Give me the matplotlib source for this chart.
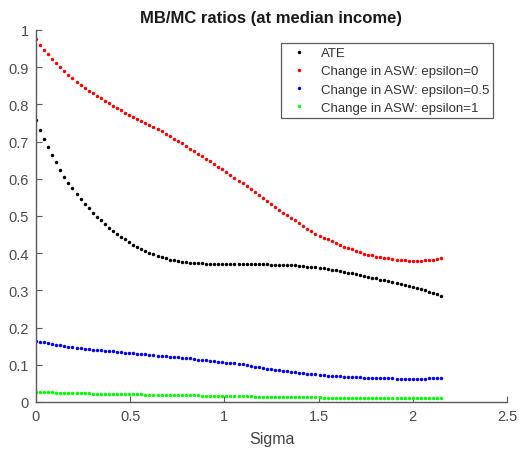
import numpy as np
import matplotlib
matplotlib.use("Agg")
import matplotlib.pyplot as plt

plt.rcParams['font.family'] = ['Liberation Sans', 'DejaVu Sans']

# Sigma grid (101 evenly spaced points from 0 to 2.15)
sigma = np.linspace(0, 2.15, 101)

ate = [0.758,0.731,0.708,0.685,0.663,0.644,0.624,0.606,0.590,0.574,
       0.559,0.546,0.533,0.521,0.509,0.498,0.488,0.479,0.469,0.461,
       0.452,0.444,0.437,0.429,0.422,0.416,0.410,0.405,0.401,0.397,
       0.393,0.389,0.386,0.383,0.381,0.379,0.377,0.376,0.375,0.374,
       0.373,0.373,0.372,0.372,0.372,0.372,0.371,0.371,0.371,0.371,
       0.371,0.371,0.371,0.371,0.370,0.370,0.370,0.370,0.369,0.369,
       0.369,0.368,0.368,0.367,0.367,0.366,0.365,0.364,0.363,0.362,
       0.361,0.359,0.357,0.356,0.354,0.352,0.350,0.348,0.346,0.344,
       0.342,0.340,0.337,0.334,0.332,0.329,0.327,0.324,0.322,0.319,
       0.317,0.314,0.312,0.309,0.306,0.303,0.300,0.297,0.293,0.289,
       0.284]

asw_eps0 = [0.977,0.961,0.947,0.935,0.922,0.910,0.900,0.890,0.880,0.870,
            0.861,0.852,0.844,0.837,0.830,0.823,0.816,0.809,0.803,0.797,
            0.790,0.784,0.778,0.772,0.766,0.760,0.755,0.749,0.744,0.738,
            0.733,0.728,0.721,0.714,0.707,0.701,0.695,0.688,0.681,0.675,
            0.668,0.661,0.654,0.647,0.640,0.633,0.626,0.618,0.611,0.603,
            0.595,0.588,0.580,0.572,0.565,0.557,0.548,0.540,0.532,0.524,
            0.517,0.509,0.502,0.495,0.488,0.481,0.473,0.466,0.459,0.452,
            0.447,0.441,0.437,0.432,0.427,0.422,0.418,0.414,0.410,0.406,
            0.402,0.399,0.396,0.394,0.391,0.389,0.387,0.386,0.384,0.383,
            0.382,0.381,0.380,0.380,0.380,0.380,0.381,0.382,0.383,0.385,
            0.386]

asw_eps05 = [0.164,0.162,0.160,0.158,0.156,0.154,0.152,0.150,0.149,0.147,
             0.146,0.145,0.143,0.142,0.141,0.140,0.139,0.138,0.137,0.136,
             0.135,0.134,0.133,0.132,0.131,0.130,0.129,0.128,0.127,0.126,
             0.125,0.124,0.123,0.122,0.121,0.120,0.119,0.118,0.117,0.116,
             0.114,0.113,0.112,0.111,0.110,0.108,0.107,0.106,0.105,0.104,
             0.102,0.101,0.099,0.097,0.095,0.094,0.092,0.090,0.088,0.087,
             0.085,0.084,0.082,0.081,0.080,0.078,0.077,0.076,0.075,0.074,
             0.073,0.072,0.071,0.0705,0.070,0.069,0.068,0.0675,0.067,0.0665,
             0.066,0.0655,0.065,0.0645,0.064,0.0638,0.0636,0.0634,0.0632,0.063,
             0.063,0.063,0.063,0.063,0.063,0.063,0.063,0.0632,0.0634,0.0636,
             0.0637]

asw_eps1 = [0.027,0.0267,0.0264,0.0261,0.0258,0.0255,0.0252,0.0249,0.0246,0.0243,
            0.0240,0.0237,0.0234,0.0231,0.0228,0.0225,0.0223,0.0221,0.0219,0.0217,
            0.0215,0.0213,0.0211,0.0209,0.0207,0.0205,0.0203,0.0201,0.0199,0.0197,
            0.0195,0.0193,0.0191,0.0189,0.0187,0.0185,0.0183,0.0181,0.0179,0.0177,
            0.0175,0.0173,0.0171,0.0169,0.0167,0.0165,0.0163,0.0161,0.0159,0.0157,
            0.0155,0.0153,0.0151,0.0149,0.0147,0.0145,0.0143,0.0141,0.0139,0.0137,
            0.0135,0.0133,0.0131,0.0129,0.0127,0.0126,0.0125,0.0124,0.0123,0.0122,
            0.0121,0.0120,0.0119,0.0118,0.0117,0.0116,0.0115,0.0114,0.0113,0.0112,
            0.0111,0.0110,0.0109,0.0108,0.0107,0.0106,0.0105,0.0104,0.0103,0.0102,
            0.0101,0.0100,0.0100,0.0099,0.0099,0.0098,0.0098,0.0098,0.0097,0.0097,
            0.0097]

labels = ["ATE", "Change in ASW: epsilon=0", "Change in ASW: epsilon=0.5",
          "Change in ASW: epsilon=1"]
colors = ["#000000", "#ff0000", "#0000ff", "#00ff00"]
xticks = [0, 0.5, 1, 1.5, 2, 2.5]
xticklabels = ["0", "0.5", "1", "1.5", "2", "2.5"]
yticks = [0, 0.1, 0.2, 0.3, 0.4, 0.5, 0.6, 0.7, 0.8, 0.9, 1]
yticklabels = ["0", "0.1", "0.2", "0.3", "0.4", "0.5", "0.6", "0.7", "0.8", "0.9", "1"]

fig = plt.figure(figsize=(5.19, 4.52), dpi=100)
ax = fig.add_axes([36/519, 1-403/452, 471/519, 372/452])

for ys, c, lab in zip([ate, asw_eps0, asw_eps05, asw_eps1], colors, labels):
    ax.plot(sigma, ys, linestyle='none', marker='o', markersize=2.5,
            markeredgewidth=0, color=c, label=lab)

ax.set_xlim(0, 2.5)
ax.set_ylim(0, 1)
ax.set_xticks(xticks)
ax.set_xticklabels(xticklabels)
ax.set_yticks(yticks)
ax.set_yticklabels(yticklabels)

axcol = '#5a5a5a'
for s in ['top', 'right']:
    ax.spines[s].set_visible(False)
for s in ['left', 'bottom']:
    ax.spines[s].set_color(axcol)
    ax.spines[s].set_linewidth(1.0)
ax.tick_params(direction='in', length=4, width=0.8, color=axcol,
               labelcolor='#4a4a4a', labelsize=10.5, pad=5)

ax.set_title("MB/MC ratios (at median income)", fontsize=12, fontweight='bold',
             color='#1a1a1a', pad=6)
ax.set_xlabel("Sigma", fontsize=11.5, color='#404040', labelpad=6)

leg = ax.legend(loc='upper right', bbox_to_anchor=(493/519, 1-44/452),
                bbox_transform=fig.transFigure, frameon=True, fancybox=False,
                fontsize=9.5, markerscale=1.0, handlelength=2.1,
                handletextpad=0.6, borderpad=0.3, labelspacing=0.46,
                borderaxespad=0)
leg.get_frame().set_edgecolor('#333333')
leg.get_frame().set_linewidth(0.9)
for t in leg.get_texts():
    t.set_color('#333333')

fig.savefig("out.png", dpi=100)
